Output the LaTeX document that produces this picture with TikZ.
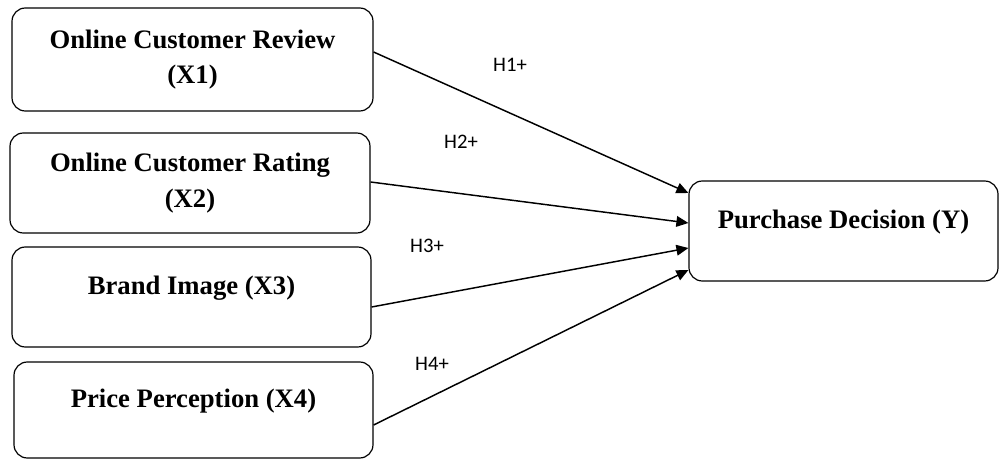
\documentclass[tikz,border=0pt]{standalone}
\usepackage{fontspec}
\setmainfont{Liberation Serif}
\newfontfamily\hfont{Carlito}
\usetikzlibrary{arrows.meta, calc}

\begin{document}
\begin{tikzpicture}[x=0.75pt,y=0.75pt,yscale=-1,xscale=1,
    varbox/.style={draw, line width=0.9pt, rounded corners=10pt, align=center, inner sep=0.75pt,
      font=\fontsize{20}{26.5}\selectfont\bfseries},
    toptext/.style={text height=14pt, text depth=17.8pt},
    hyparrow/.style={line width=1.1pt, -{Triangle[length=9pt,width=8pt]}},
    hyplabel/.style={inner sep=0.75pt, font=\hfont\fontsize{15.5}{18}\selectfont}]
        \useasboundingbox (0,0) rectangle (999,459);

        %Rounded Rect
        \node [varbox, minimum width=270.75pt, minimum height=77.25pt] (X1) at (192.5,59.5) {Online Customer Review\\(X1)};
        %Rounded Rect
        \node [varbox, minimum width=270pt, minimum height=75pt] (X2) at (190,183) {Online Customer Rating\\(X2)};
        %Rounded Rect
        \node [varbox, toptext, minimum width=269.25pt, minimum height=75pt] (X3) at (191.5,297) {Brand Image (X3)};
        %Rounded Rect
        \node [varbox, toptext, minimum width=269.25pt, minimum height=72pt] (X4) at (193.5,410) {Price Perception (X4)};
        %Rounded Rect
        \node [varbox, toptext, minimum width=231.75pt, minimum height=75pt] (Y) at (843.5,231) {Purchase Decision (Y)};

        %Straight Lines
        \draw [hyparrow] ($(X1.east)+(0,-7.5)$) -- ($(Y.west)+(0,-38)$) ;
        %Straight Lines
        \draw [hyparrow] ($(X2.east)+(0,-1)$) -- ($(Y.west)+(0,-8)$) ;
        %Straight Lines
        \draw [hyparrow] ($(X3.east)+(0,10)$) -- ($(Y.west)+(0,17)$) ;
        %Straight Lines
        \draw [hyparrow] ($(X4.east)+(0,15)$) -- ($(Y.west)+(0,39)$) ;

        % Text Node
        \node [hyplabel] (h1) at (510,64.5) {H1+};
        % Text Node
        \node [hyplabel] (h2) at (461,142) {H2+};
        % Text Node
        \node [hyplabel] (h3) at (427,246) {H3+};
        % Text Node
        \node [hyplabel] (h4) at (432,364) {H4+};

\end{tikzpicture}
\end{document}
